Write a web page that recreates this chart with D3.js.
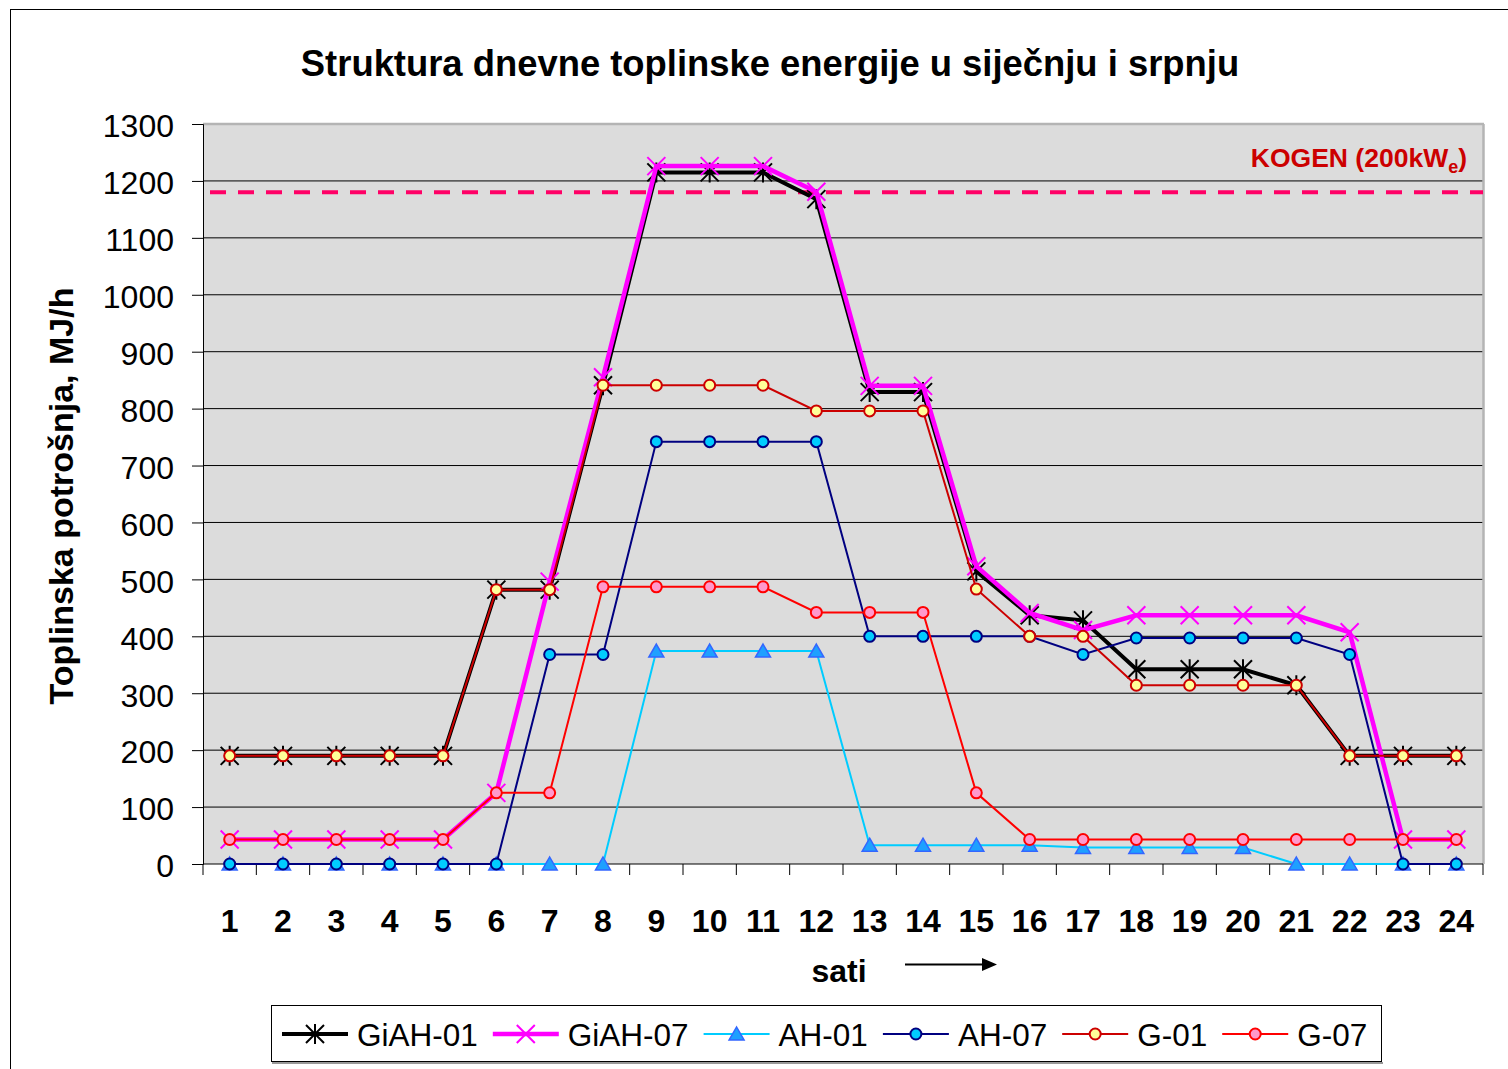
<!DOCTYPE html>
<html><head><meta charset="utf-8">
<script src="https://cdn.jsdelivr.net/npm/d3@7"></script>
<style>
body{margin:0;background:#fff}
svg{display:block}
text{font-family:Arial,"Liberation Sans",sans-serif}
</style>
</head><body>
<svg id="c" width="1508" height="1069"></svg>
<script>
// ---------- data ----------
const hours = [1,2,3,4,5,6,7,8,9,10,11,12,13,14,15,16,17,18,19,20,21,22,23,24];
const yTicks = [0,100,200,300,400,500,600,700,800,900,1000,1100,1200,1300];
const giah01 = [190,190,190,190,190,482,482,841,1215,1215,1215,1168,829,829,514,437,428,342,342,342,314,190,190,190];
const giah07 = [43,43,43,43,43,125,496,855,1226,1226,1226,1181,840,840,523,441,411,437,437,437,437,407,43,43];
const ah01   = [0,0,0,0,0,0,0,0,374,374,374,374,33,33,33,33,29,29,29,29,0,0,0,0];
const ah07   = [0,0,0,0,0,0,368,368,742,742,742,742,400,400,400,400,368,397,397,397,397,368,0,0];
const g01    = [190,190,190,190,190,482,482,841,841,841,841,796,796,796,483,400,400,314,314,314,314,190,190,190];
const g07    = [43,43,43,43,43,125,125,487,487,487,487,442,442,442,125,43,43,43,43,43,43,43,43,43];
const seriesNames = ["GiAH-01","GiAH-07","AH-01","AH-07","G-01","G-07"];
const kogenValue = 1180;
const kogenLabel = "KOGEN (200kW";
const titleText = "Struktura dnevne toplinske energije u siječnju i srpnju";
const yTitle = "Toplinska potrošnja, MJ/h";
const xTitle = "sati";

// ---------- styles ----------
const mk = {
  asterisk: "M-9,-9L9,9M-9,9L9,-9M0,-10L0,10",
  cross: "M-9,-9L9,9M-9,9L9,-9",
  triangle: "M0,-7L7.5,6L-7.5,6Z"
};
const series = [
  {name: seriesNames[0], values: giah01, line: "#000000", lw: 4,   marker: "asterisk", mfill: "none",    mstroke: "#000000", msw: 2},
  {name: seriesNames[1], values: giah07, line: "#FF00FF", lw: 4.5, marker: "cross",    mfill: "none",    mstroke: "#FF00FF", msw: 2},
  {name: seriesNames[2], values: ah01,   line: "#00CCFF", lw: 2,   marker: "triangle", mfill: "#1EA0FF", mstroke: "#3366FF", msw: 1.5},
  {name: seriesNames[3], values: ah07,   line: "#000080", lw: 2,   marker: "circle",   mfill: "#00CCFF", mstroke: "#000080", msw: 2},
  {name: seriesNames[4], values: g01,    line: "#CC0000", lw: 2,   marker: "circle",   mfill: "#FFFF99", mstroke: "#CC0000", msw: 2},
  {name: seriesNames[5], values: g07,    line: "#FF0000", lw: 2,   marker: "circle",   mfill: "#FF99CC", mstroke: "#FF0000", msw: 2}
];

const svg = d3.select("#c");
const L = 203, R = 1483, T = 124, B = 864;

// outer frame
svg.append("rect").attr("x",10.5).attr("y",9.5).attr("width",2000).attr("height",2000)
  .attr("fill","#fff").attr("stroke","#000").attr("stroke-width",1);

const x = d3.scaleBand().domain(hours).range([L,R]);
const y = d3.scaleLinear().domain([0,1300]).range([B,T]);
const cx = h => x(h) + x.bandwidth()/2;

// plot background
svg.append("rect").attr("x",L).attr("y",T).attr("width",R-L).attr("height",B-T).attr("fill","#DCDCDC");

// gridlines
svg.append("g").selectAll("line").data(yTicks.filter(v=>v>0 && v<1300)).join("line")
  .attr("x1",L).attr("x2",R).attr("y1",d=>y(d)).attr("y2",d=>y(d))
  .attr("stroke","#000").attr("stroke-width",1);

// plot border top/right
svg.append("line").attr("x1",L).attr("x2",R+1).attr("y1",T).attr("y2",T).attr("stroke","#B4B4B4").attr("stroke-width",2.5);
svg.append("line").attr("x1",R+0.5).attr("x2",R+0.5).attr("y1",T).attr("y2",B).attr("stroke","#B4B4B4").attr("stroke-width",2.5);

// y axis
const yAxis = svg.append("g").attr("transform",`translate(${L},0)`)
  .call(d3.axisLeft(y).tickValues(yTicks).tickSize(11).tickPadding(18).tickFormat(d3.format("d")));
yAxis.select(".domain").attr("stroke","#000");
yAxis.selectAll(".tick line").attr("stroke","#000");
yAxis.selectAll("text").attr("font-size",32).attr("fill","#000").attr("dy","0.4em")
  .attr("font-family","Arial, 'Liberation Sans', sans-serif");

// x axis line + boundary ticks
svg.append("line").attr("x1",L).attr("x2",R).attr("y1",B).attr("y2",B).attr("stroke","#000").attr("stroke-width",1);
const bounds = hours.map(h=>x(h)).concat([x(hours[hours.length-1])+x.bandwidth()]);
svg.append("g").selectAll("line").data(bounds).join("line")
  .attr("x1",d=>d).attr("x2",d=>d).attr("y1",B).attr("y2",B+11)
  .attr("stroke","#000").attr("stroke-width",1);
const xAxis = svg.append("g").attr("transform",`translate(0,${B})`)
  .call(d3.axisBottom(x).tickSize(0).tickPadding(45));
xAxis.select(".domain").remove();
xAxis.selectAll("text").attr("font-size",32).attr("font-weight","bold").attr("fill","#000")
  .attr("font-family","Arial, 'Liberation Sans', sans-serif");

// KOGEN reference line
svg.append("line").attr("x1",210).attr("x2",R).attr("y1",y(kogenValue)).attr("y2",y(kogenValue))
  .attr("stroke","#FF0066").attr("stroke-width",4).attr("stroke-dasharray","16,12");
const kt = svg.append("text").attr("x",1467).attr("y",167).attr("text-anchor","end")
  .attr("font-size",26.5).attr("font-weight","bold").attr("fill","#CC0000");
kt.append("tspan").text(kogenLabel);
kt.append("tspan").attr("font-size",18).attr("dy",6).text("e");
kt.append("tspan").attr("dy",-6).text(")");

// series
function drawMarker(g, s, px, py){
  if (s.marker === "circle") {
    g.append("circle").attr("cx",px).attr("cy",py).attr("r",5.5)
      .attr("fill",s.mfill).attr("stroke",s.mstroke).attr("stroke-width",s.msw);
  } else {
    g.append("path").attr("d",mk[s.marker]).attr("transform",`translate(${px},${py})`)
      .attr("fill",s.mfill).attr("stroke",s.mstroke).attr("stroke-width",s.msw);
  }
}
const line = d3.line().x(d=>cx(d.h)).y(d=>y(d.v));
series.forEach(s=>{
  const pts = hours.map((h,i)=>({h, v:s.values[i]}));
  const g = svg.append("g");
  g.append("path").datum(pts).attr("d",line).attr("fill","none")
    .attr("stroke",s.line).attr("stroke-width",s.lw).attr("stroke-linejoin","miter");
  pts.forEach(p=>drawMarker(g, s, cx(p.h), y(p.v)));
});

// title
svg.append("text").attr("x",770).attr("y",76).attr("text-anchor","middle")
  .attr("font-size",36.4).attr("font-weight","bold").text(titleText);

// y title
svg.append("text").attr("transform","translate(73,496) rotate(-90)").attr("text-anchor","middle")
  .attr("font-size",34).attr("font-weight","bold").text(yTitle);

// x title + arrow
svg.append("text").attr("x",839).attr("y",982).attr("text-anchor","middle")
  .attr("font-size",32).attr("font-weight","bold").text(xTitle);
svg.append("line").attr("x1",905).attr("x2",984).attr("y1",964.5).attr("y2",964.5).attr("stroke","#000").attr("stroke-width",2);
svg.append("path").attr("d","M982,958L997,964.5L982,971Z").attr("fill","#000");

// legend
svg.append("line").attr("x1",272).attr("x2",1383).attr("y1",1063).attr("y2",1063).attr("stroke","#999").attr("stroke-width",2);
svg.append("rect").attr("x",271.5).attr("y",1005.5).attr("width",1110).attr("height",56)
  .attr("fill","#fff").attr("stroke","#000").attr("stroke-width",1);
let lx = 282;
const ly = 1034;
series.forEach(s=>{
  const g = svg.append("g");
  g.append("line").attr("x1",lx).attr("x2",lx+66).attr("y1",ly).attr("y2",ly)
    .attr("stroke",s.line).attr("stroke-width",s.lw);
  drawMarker(g, s, lx+33, ly);
  const t = g.append("text").attr("x",lx+75).attr("y",ly+12).attr("font-size",31.5).attr("fill","#000").text(s.name);
  const w = t.node().getComputedTextLength();
  lx = lx + 75 + w + 15;
});
</script>
</body></html>
